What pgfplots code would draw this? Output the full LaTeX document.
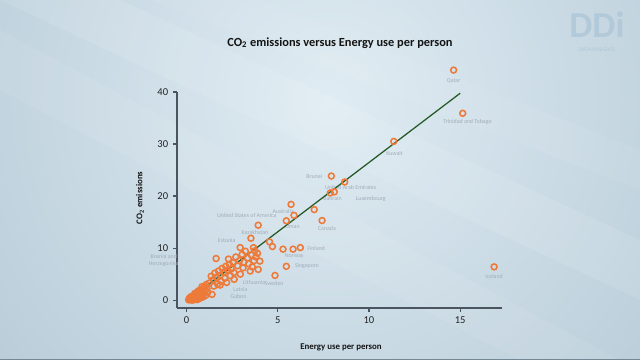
\documentclass[border=0pt]{standalone}
\usepackage{pgfplots}
\pgfplotsset{compat=1.18}
\usepackage{fontspec}
\setmainfont{Carlito}
\definecolor{dotor}{RGB}{238,122,58}
\definecolor{lbl}{RGB}{160,172,184}
\definecolor{bgout}{RGB}{158,183,199}
\definecolor{bgin}{RGB}{224,236,243}
\definecolor{axc}{RGB}{75,85,95}
\definecolor{fitg}{RGB}{35,90,40}
\definecolor{logoc}{RGB}{170,196,214}
\definecolor{edgec}{RGB}{115,135,148}
\definecolor{txt}{RGB}{20,20,20}
\definecolor{tick}{RGB}{35,35,35}
\pgfplotstableread{
x y
14.64 44.2
15.14 35.9
11.36 30.5
16.86 6.4
7.94 23.85
8.67 22.7
7.88 20.6
8.10 20.8
5.73 18.4
5.89 16.3
5.47 15.25
7.00 17.4
7.43 15.3
3.93 14.4
3.53 11.9
4.55 11.2
4.71 10.3
5.29 9.8
5.84 9.8
6.24 10.1
5.47 6.5
4.85 4.75
2.94 10.1
3.67 10.1
3.23 9.4
1.62 8.0
3.89 9.0
3.80 8.3
4.02 7.5
3.93 5.9
3.49 5.6
2.61 4.0
1.84 2.9
1.40 1.1
2.55 7.2
2.70 8.3
2.80 6.6
2.90 7.6
3.05 8.8
3.10 6.2
3.15 7.3
3.35 8.1
3.40 7.0
3.55 8.7
3.60 6.4
3.70 7.6
3.75 9.5
2.45 6.0
2.60 5.3
2.30 7.9
2.95 5.0
1.25 3.3
1.35 4.6
1.45 3.9
1.55 5.2
1.65 4.4
1.75 5.6
1.85 4.8
1.95 6.1
2.05 5.4
2.15 6.5
2.25 5.8
2.35 6.9
2.10 4.2
1.90 3.6
1.70 3.1
1.50 2.7
2.40 4.7
2.20 3.4
0.12 0.05
0.18 0.25
0.22 0.10
0.28 0.40
0.32 0.15
0.36 0.60
0.40 0.30
0.44 0.90
0.48 0.50
0.52 1.10
0.56 0.70
0.60 1.40
0.64 0.40
0.68 1.00
0.72 1.70
0.76 0.80
0.80 1.30
0.84 2.00
0.88 1.10
0.92 2.30
0.96 1.60
1.00 2.60
1.04 1.90
1.08 3.00
1.12 2.20
1.16 1.50
0.30 0.00
0.50 0.20
0.70 0.30
0.90 0.60
1.05 0.90
0.25 0.70
0.45 1.30
0.65 1.80
0.85 2.60
0.20 0.50
0.15 0.35
0.38 0.05
0.58 0.10
0.78 0.50
}\pts
\begin{document}
\begin{tikzpicture}
\begin{scope}[x=0.025cm,y=0.025cm]
\useasboundingbox (0,0) rectangle (640,360);
\begin{scope}
\clip (0,0) rectangle (640,360);
\fill[bgout] (0,0) rectangle (640,360);
\shade[inner color=bgin, outer color=bgout] (330,260) circle (720);
\fill[white, opacity=0.10] (0,360) -- (120,360) -- (640,120) -- (640,60) -- cycle;
\fill[white, opacity=0.07] (0,330) -- (0,270) -- (520,0) -- (620,0) -- cycle;
\fill[white, opacity=0.06] (150,360) -- (260,360) -- (640,210) -- (640,170) -- cycle;
\end{scope}
\draw[edgec, line width=1.2pt] (0,0.5) -- (640,0.5);
\node[logoc, font=\bfseries\fontsize{26}{26}\selectfont, opacity=0.7] at (597,335) {DDi};
\node[logoc, font=\fontsize{4}{4}\selectfont, opacity=0.9] at (597,310) {DATA+INSIGHTS};
\node[font=\bfseries\fontsize{8.8}{10}\selectfont, text=txt] at (340,317) {CO\textsubscript{2} emissions versus Energy use per person};
\node[rotate=90, font=\bfseries\fontsize{6.3}{7}\selectfont, text=txt] at (140,162) {CO\textsubscript{2} emissions};
\node[font=\bfseries\fontsize{6.3}{7}\selectfont, text=txt] at (341,13) {Energy use per person};
\end{scope}
\begin{axis}[at={(4.425cm,1.3cm)}, anchor=south west, scale only axis,
  width=8.125cm, height=6.05cm,
  xmin=-0.52, xmax=17.3, ymin=-1.5, ymax=45,
  axis x line=bottom, axis y line=left,
  axis line style={-, axc, line width=0.9pt},
  y axis line style={draw=none},
  xtick={0,5,10,15}, ytick={0,10,20,30,40},
  tick align=outside, major tick length=2.8pt,
  tick style={axc, line width=0.8pt},
  ticklabel style={font=\fontsize{7.5}{8}\selectfont, text=tick},
  /pgf/number format/assume math mode=true,
  clip=false]
\draw[axc, line width=0.9pt] (axis cs:-0.52,-1.5) -- (axis cs:-0.52,40);
\begin{scope}[lbl, font=\fontsize{4.2}{4.8}\selectfont, inner sep=0.5pt]
\node at (axis cs:14.64,42.1) {Qatar};
\node at (axis cs:15.4,34.3) {Trinidad and Tobago};
\node at (axis cs:11.4,28.2) {Kuwait};
\node at (axis cs:7.0,23.85) {Brunei};
\node at (axis cs:9.0,21.6) {United Arab Emirates};
\node at (axis cs:8.0,19.5) {Bahrain};
\node at (axis cs:10.1,19.5) {Luxembourg};
\node at (axis cs:5.3,17.0) {Australia};
\node at (axis cs:5.8,14.1) {Oman};
\node at (axis cs:7.7,13.8) {Canada};
\node at (axis cs:3.3,16.3) {United States of America};
\node at (axis cs:3.75,13.0) {Kazakhstan};
\node at (axis cs:2.2,11.5) {Estonia};
\node at (axis cs:7.1,10.0) {Finland};
\node at (axis cs:5.9,8.5) {Norway};
\node at (axis cs:6.6,6.5) {Singapore};
\node at (axis cs:4.8,3.3) {Sweden};
\node at (axis cs:3.7,3.4) {Lithuania};
\node at (axis cs:2.95,2.1) {Latvia};
\node at (axis cs:2.85,0.8) {Gabon};
\node at (axis cs:16.86,4.5) {Iceland};
\node[align=center] at (axis cs:-1.25,7.6) {Bosnia and\\Herzegovina};
\end{scope}
\addplot[only marks, mark=o, mark size=2.1pt, mark options={draw=dotor, line width=1.1pt}] table {\pts};
\addplot[fitg, line width=0.9pt] coordinates {(0.14,0.2) (15.0,39.75)};
\end{axis}
\end{tikzpicture}
\end{document}
